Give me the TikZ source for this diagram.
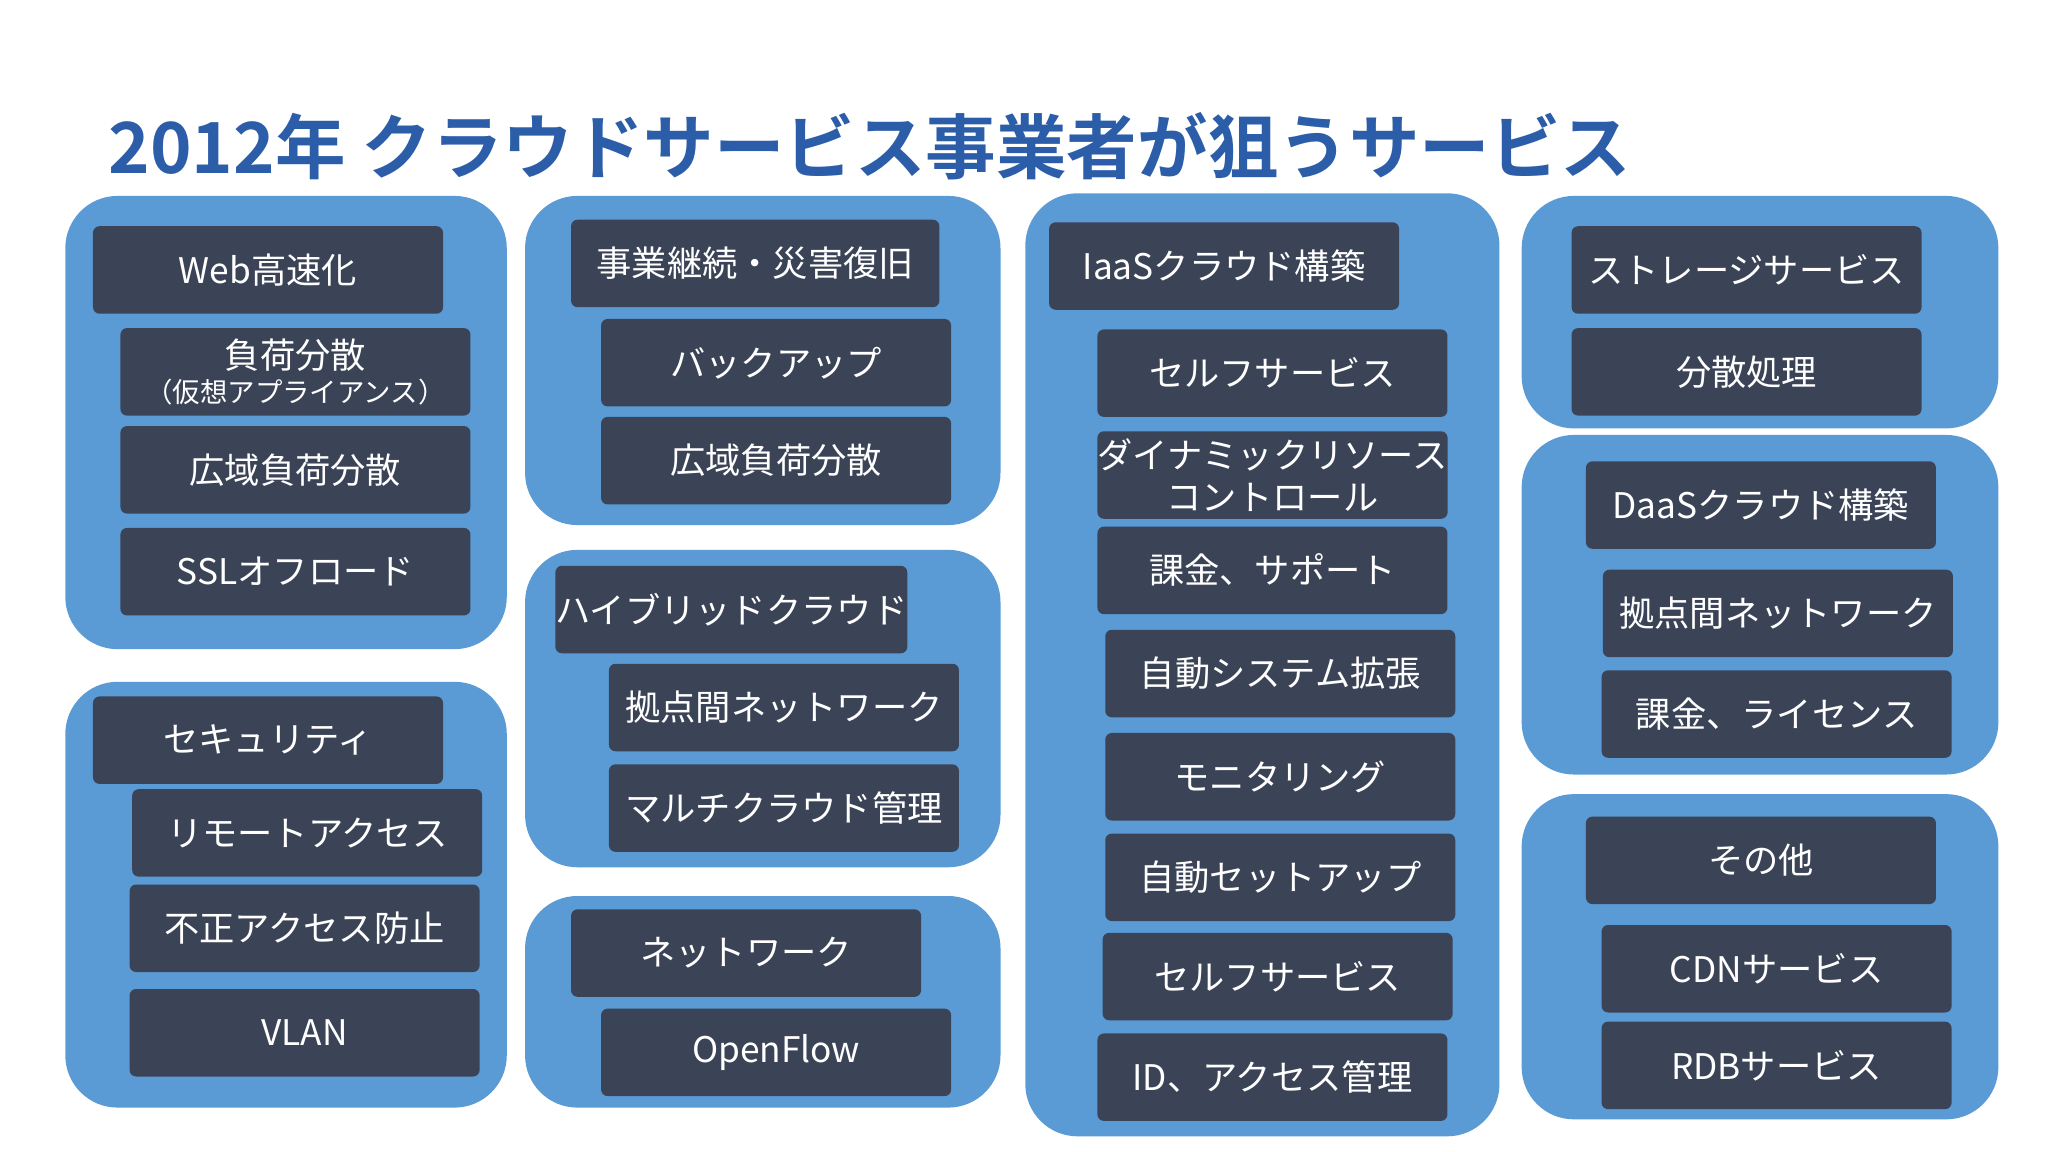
\documentclass[tikz,border=0pt]{standalone}
\usepackage{fontspec}
\setmainfont{Noto Sans CJK JP}
\newfontfamily\titlefont{Noto Sans CJK JP Bold}
\definecolor{contc}{HTML}{5B9BD5}
\definecolor{boxc}{HTML}{3B4356}
\definecolor{titlec}{HTML}{2C5DA9}
\tikzset{
  cont/.style={fill=contc, draw=none, rounded corners=40pt},
  bx/.style={fill=boxc, draw=none, rounded corners=5pt, text=white, anchor=north west,
    minimum width=268pt, minimum height=67pt, inner sep=0pt, align=center,
    font=\fontsize{27}{30}\selectfont}
}
\newcommand\bxx[5]{\node[bx] (#1) at (#2,#3) {#4};}
\begin{document}
\begin{tikzpicture}[x=1pt,y=-1pt]
\useasboundingbox[fill=white] (0,0) rectangle (1568,882);
\node[anchor=base west, text=titlec, font=\titlefont\fontsize{54}{60}\selectfont, inner sep=0pt] (title) at (83,133) {2012年 クラウドサービス事業者が狙うサービス};
% containers
\path[cont] (50,150) rectangle (388,497);
\path[cont] (50,522) rectangle (388,848);
\path[cont] (402,150) rectangle (766,402);
\path[cont] (402,421) rectangle (766,664);
\path[cont] (402,686) rectangle (766,848);
\path[cont] (785,148) rectangle (1148,870);
\path[cont] (1165,150) rectangle (1530,328);
\path[cont] (1165,333) rectangle (1530,593);
\path[cont] (1165,608) rectangle (1530,857);
% column 1
\bxx{a1}{71}{173}{Web高速化}{}
\bxx{a2}{92}{251}{負荷分散\\[-4pt]{\fontsize{21}{24}\selectfont （仮想アプライアンス）}}{}
\bxx{a3}{92}{326}{広域負荷分散}{}
\bxx{a4}{92}{404}{SSLオフロード}{}
\bxx{b1}{71}{533}{セキュリティ}{}
\bxx{b2}{101}{604}{リモートアクセス}{}
\bxx{b3}{99}{677}{不正アクセス防止}{}
\bxx{b4}{99}{757}{VLAN}{}
% column 2
\node[bx, minimum width=282pt] (c1) at (437,168) {事業継続・災害復旧};
\bxx{c2}{460}{244}{バックアップ}{}
\bxx{c3}{460}{319}{広域負荷分散}{}
\bxx{d1}{425}{433}{ハイブリッドクラウド}{}
\bxx{d2}{466}{508}{拠点間ネットワーク}{}
\bxx{d3}{466}{585}{マルチクラウド管理}{}
\bxx{e1}{437}{696}{ネットワーク}{}
\bxx{e2}{460}{772}{OpenFlow}{}
% column 3
\bxx{f1}{803}{170}{IaaSクラウド構築}{}
\bxx{f2}{840}{252}{セルフサービス}{}
\node[bx, font=\fontsize{27}{32}\selectfont] (f3) at (840,330) {ダイナミックリソース\\コントロール};
\bxx{f4}{840}{403}{課金、サポート}{}
\bxx{f5}{846}{482}{自動システム拡張}{}
\bxx{f6}{846}{561}{モニタリング}{}
\bxx{f7}{846}{638}{自動セットアップ}{}
\bxx{f8}{844}{714}{セルフサービス}{}
\bxx{f9}{840}{791}{ID、アクセス管理}{}
% column 4
\bxx{g1}{1203}{173}{ストレージサービス}{}
\bxx{g2}{1203}{251}{分散処理}{}
\bxx{h1}{1214}{353}{DaaSクラウド構築}{}
\bxx{h2}{1227}{436}{拠点間ネットワーク}{}
\bxx{h3}{1226}{513}{課金、ライセンス}{}
\bxx{i1}{1214}{625}{その他}{}
\bxx{i2}{1226}{708}{CDNサービス}{}
\bxx{i3}{1226}{782}{RDBサービス}{}
\end{tikzpicture}
\end{document}
